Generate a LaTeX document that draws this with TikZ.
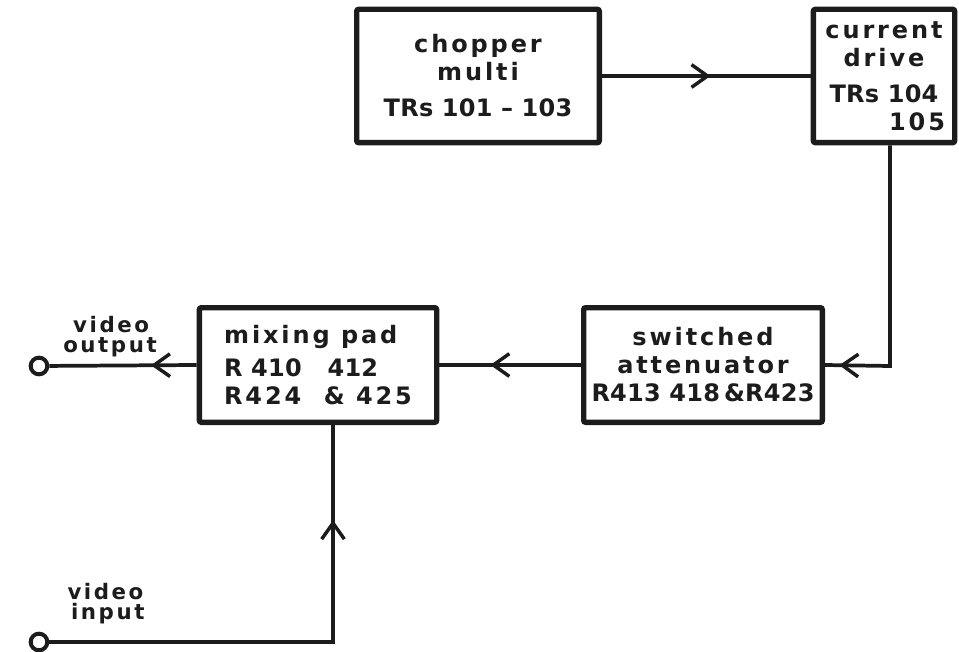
\documentclass[tikz,border=0pt]{standalone}
\usepackage{fontspec}
\usepackage{xcolor}
\usetikzlibrary{arrows.meta,decorations.markings}
\newfontfamily\stencilword{DejaVu Sans}[LetterSpace=12]
\newfontfamily\stencilnum{DejaVu Sans}[LetterSpace=1]
\definecolor{plateink}{HTML}{1C1C1C}
\tikzset{barb/.tip={Straight Barb[length=12pt, width=17pt, line width=2.6pt]}}

\begin{document}
\begin{tikzpicture}[
  x=0.75pt,
  y=-0.75pt,
  every node/.style={plateink},
  block/.style={draw=plateink, line width=4pt, rounded corners=1.5pt,
                inner sep=0pt, align=center,
                font=\stencilword\bfseries\fontsize{18}{21}\selectfont},
  wire/.style={plateink, line width=2.8pt},
  flow/.style={postaction={decorate},
               decoration={markings, mark=at position #1 with {\arrow{barb}}}},
  terminal/.style={circle, draw=plateink, fill=white, line width=3pt,
                   inner sep=0pt, minimum size=12.5pt},
  caption/.style={align=left, inner sep=0pt,
                  font=\stencilword\bfseries\fontsize{16}{15}\selectfont}
]
  % ---- page frame (keeps the margins of the sheet) ----
  \useasboundingbox (0,0) rectangle (959,652);

  % ---- blocks ----
  \node[block, minimum width=182pt, minimum height=100pt] (chopper) at (478,76)
    {chopper\\ multi\\[6pt] \stencilnum TRs 101 {\textendash} 103};
  \node[block, minimum width=106pt, minimum height=100pt] (current) at (884,76)
    {current\\ drive\\[6pt] \stencilnum TRs 104\\ \hphantom{TRs }105};
  \node[block, minimum width=179pt, minimum height=86pt] (atten) at (703,365)
    {switched\\ attenuator\\ \stencilnum R413 418\,\&R423};
  \node[block, minimum width=178pt, minimum height=86pt, align=left] (mix) at (318,365)
    {mixing pad\\[4pt] \stencilnum R 410\ \ \ 412\\ R424\ \ \&\ 425};

  % ---- terminals and their labels ----
  \node[terminal] (vidout) at (39,366) {};
  \node[terminal] (vidin)  at (39,642) {};
  \node[caption] (outlabel) at (110,337) {\ video\\ output};
  \node[caption] (inlabel)  at (106,604) {video\\ \,input};

  % ---- bends of the signal path ----
  \coordinate (bendright) at (890,366);
  \coordinate (bendleft)  at (333,642);

  % ---- signal path ----
  \draw[wire, flow=0.52] (chopper.east) -- (current.west);
  \draw[wire, flow=0.95] (current.south -| bendright) -- (bendright) -- (atten.east);
  \draw[wire, flow=0.64] (atten.west) -- (mix.east);
  \draw[wire, flow=0.31] (mix.west) -- (vidout);
  \draw[wire, flow=0.81] (vidin) -- (bendleft) -- (bendleft |- mix.south);
\end{tikzpicture}
\end{document}
